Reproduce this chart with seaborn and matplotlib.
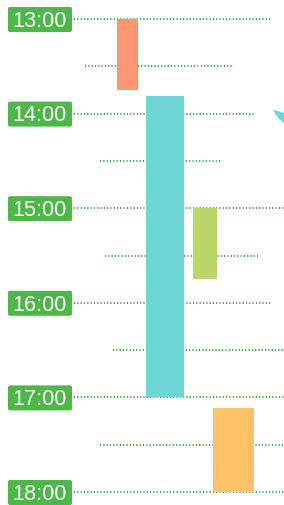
import matplotlib
matplotlib.use('Agg')
import matplotlib.pyplot as plt
import matplotlib.transforms as mtransforms
from matplotlib.patches import FancyBboxPatch, Polygon
import seaborn as sns
import pandas as pd

# ---- data ----
hour_labels = ['13:00', '14:00', '15:00', '16:00', '17:00', '18:00']
hours = [13, 14, 15, 16, 17, 18]
half_hours = [13.5, 14.5, 15.5, 16.5, 17.5]

event_names = ['A', 'B', 'C', 'D']
event_start = [13.0, 13 + 49 / 60, 15.0, 17 + 7 / 60]
event_end = [13.75, 17.0, 15.75, 18.0]
event_colors = ['#FF9673', '#6FD6D6', '#B9D66A', '#FFC266']

# ---- layout (pixels) ----
W, H = 284, 505
lane_left = [117, 146, 193, 213]
lane_width = [21, 38, 24, 41]
hour_line_start = 74
hour_line_end = [271, 255, 284, 270, 284, 284]
half_line_start = [85, 100, 105, 113, 100]
half_line_end = [234, 220, 258, 284, 284]
PX_PER_HOUR = 94.6
TOP_HOUR = 13 - 19 / PX_PER_HOUR

sns.set_theme(style='white')
plt.rcParams['font.family'] = ['Liberation Sans', 'DejaVu Sans']

fig = plt.figure(figsize=(W / 100, H / 100), dpi=100)
ax = fig.add_axes([0, 0, 1, 1])
ax.set_xlim(0, W)
ax.set_ylim(TOP_HOUR + H / PX_PER_HOUR, TOP_HOUR)
ax.axis('off')

line_color = '#2DAA4F'
dot = dict(color=line_color, lw=1.4, linestyle=(0, (0.6, 1.1)), zorder=1,
           solid_capstyle='butt', dash_capstyle='butt')
for h, xe in zip(hours, hour_line_end):
    ax.plot([hour_line_start, xe], [h, h], **dot)
for h, xs, xe in zip(half_hours, half_line_start, half_line_end):
    ax.plot([xs, xe], [h, h], **dot)

df = pd.DataFrame({'name': event_names, 'start': event_start, 'end': event_end,
                   'color': event_colors, 'left': lane_left, 'width': lane_width})
ax.bar(df['left'], df['end'] - df['start'], width=df['width'], bottom=df['start'],
       color=df['color'], align='edge', zorder=2, linewidth=0)

box_h = 25 / PX_PER_HOUR
for h, lab in zip(hours, hour_labels):
    p = FancyBboxPatch((8, h - box_h / 2 + 0.5 / PX_PER_HOUR), 64, box_h,
                       boxstyle='round,pad=0,rounding_size=2',
                       mutation_aspect=1 / PX_PER_HOUR,
                       facecolor='#4DB848', edgecolor='none', zorder=3)
    ax.add_patch(p)
    ax.text(40, h + 7.8 / PX_PER_HOUR, lab, color='white', fontsize=15.6,
            ha='center', va='baseline', zorder=4)

# small decorative cyan wedge at right edge
pix = mtransforms.Affine2D().scale(1 / W, -1 / H).translate(0, 1) + fig.transFigure
wedge = Polygon([(273, 110), (276, 110.5), (284, 113), (284, 123), (280, 120), (276, 115)],
                closed=True, facecolor='#6FD6D6', edgecolor='none', transform=pix)
fig.patches.append(wedge)

fig.savefig('out.png', dpi=100)
